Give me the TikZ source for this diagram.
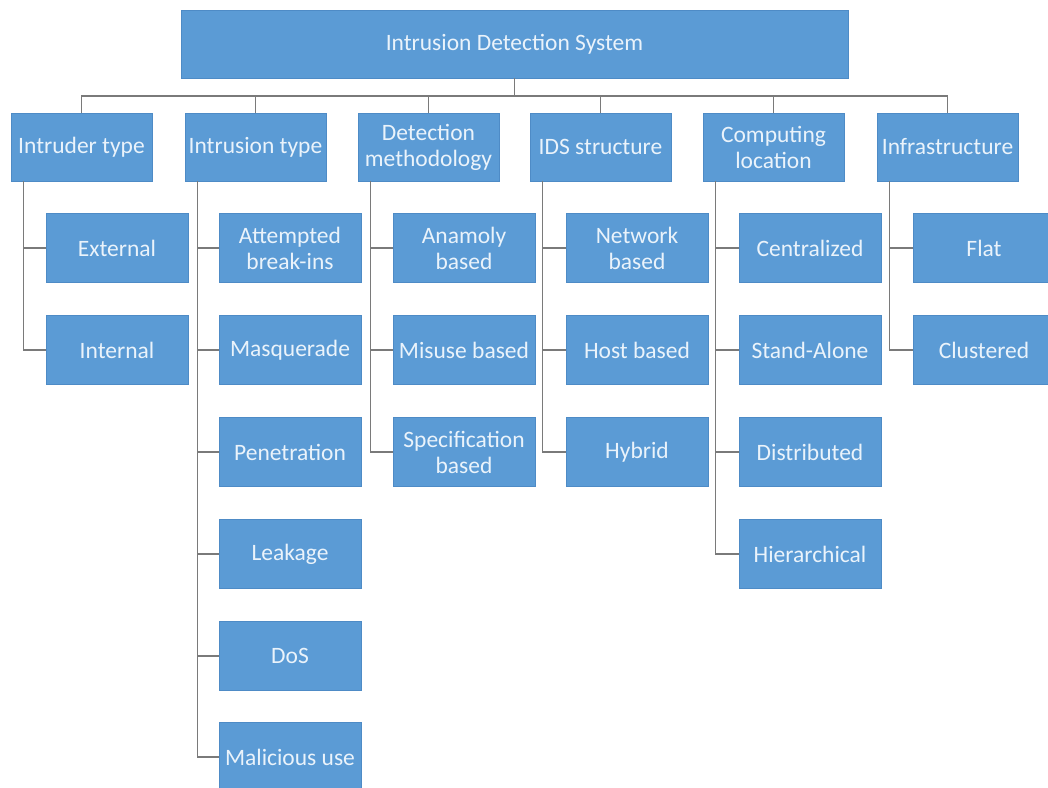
\documentclass[tikz,border=0pt]{standalone}
\usepackage{fontspec}
\setmainfont{Carlito}
\definecolor{boxfill}{HTML}{5B9BD5}
\definecolor{boxedge}{HTML}{4E8BC6}
\definecolor{boxtext}{HTML}{EAF3FB}
\definecolor{wire}{HTML}{7A7A7A}
\begin{document}
\begin{tikzpicture}[x=1pt,y=-1pt,
  card/.style={draw=boxedge, line width=0.7pt, fill=boxfill, text=boxtext,
    inner sep=0pt, align=center, font=\fontsize{23.5}{26}\selectfont},
  topcard/.style={card, minimum width=667pt, minimum height=68pt},
  headcard/.style={card, minimum width=141pt, minimum height=68pt},
  leafcard/.style={card, minimum width=142pt, minimum height=69pt},
  link/.style={draw=wire, line width=1.4pt}]
\useasboundingbox (0,0) rectangle (1048,787);
\clip (0,0) rectangle (1048,787);

% root
\node[topcard] (top) at (514.5,44) {Intrusion Detection System};
\coordinate (bus) at (514.5,96);

% categories
\node[headcard] (intruder) at (81.5,147)  {Intruder type};
\node[headcard] (intrusion) at (255.5,147) {Intrusion type};
\node[headcard] (method) at (428.5,147)   {Detection\\methodology};
\node[headcard] (struct) at (600.5,147)   {IDS structure};
\node[headcard] (compute) at (773.5,147)  {Computing\\location};
\node[headcard] (infra) at (947.5,147)    {Infrastructure};

% Intruder type
\node[leafcard] (external) at (117,248) {External};
\node[leafcard] (internal) at (117,350) {Internal};

% Intrusion type
\node[leafcard] (attempt) at (290,248) {Attempted\\break-ins};
\node[leafcard] (masq) at (290,350)    {Masquerade};
\node[leafcard] (pen) at (290,452)     {Penetration};
\node[leafcard] (leak) at (290,554)    {Leakage};
\node[leafcard] (dos) at (290,656)     {DoS};
\node[leafcard] (malic) at (290,757)   {Malicious use};

% Detection methodology
\node[leafcard] (anom) at (464,248)  {Anamoly\\based};
\node[leafcard] (misuse) at (464,350) {Misuse based};
\node[leafcard] (spec) at (464,452)  {Specification\\based};

% IDS structure
\node[leafcard] (net) at (637,248)   {Network\\based};
\node[leafcard] (host) at (637,350)  {Host based};
\node[leafcard] (hyb) at (637,452)   {Hybrid};

% Computing location
\node[leafcard] (central) at (810,248) {Centralized};
\node[leafcard] (alone) at (810,350)   {Stand-Alone};
\node[leafcard] (distr) at (810,452)   {Distributed};
\node[leafcard] (hier) at (810,554)    {Hierarchical};

% Infrastructure
\node[leafcard] (flat) at (984,248)  {Flat};
\node[leafcard] (clust) at (984,350) {Clustered};

% root to categories
\draw[link] (top.south) -- (bus);
\foreach \c in {intruder,intrusion,method,struct,compute,infra}
  \draw[link] (\c.north) |- (bus);

% category spines to leaves
\foreach \c/\leaves in {intruder/{external,internal},
    intrusion/{attempt,masq,pen,leak,dos,malic},
    method/{anom,misuse,spec},
    struct/{net,host,hyb},
    compute/{central,alone,distr,hier},
    infra/{flat,clust}}
  \foreach \l in \leaves
    \draw[link] ([xshift=13pt]\c.south west) |- (\l.west);
\end{tikzpicture}
\end{document}
